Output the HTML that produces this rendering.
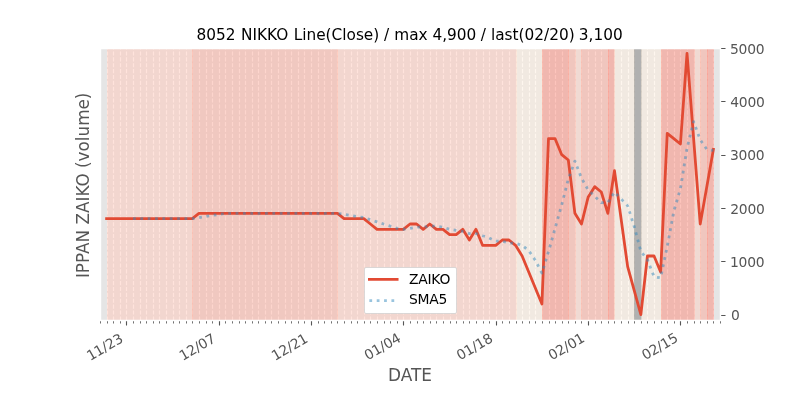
<!DOCTYPE html>
<html><head><meta charset="utf-8"><title>8052 NIKKO</title><style>
html,body{margin:0;padding:0;background:#fff;width:800px;height:400px;overflow:hidden}
text{font-family:"DejaVu Sans","Liberation Sans",sans-serif}
</style></head><body>
<svg width="800" height="400" viewBox="0 0 800 400" version="1.1" style="display:block;will-change:transform">
<defs><clipPath id="ax"><rect x="100" y="48" width="620" height="272"/></clipPath></defs>
<rect x="0" y="0" width="800" height="400" fill="#ffffff"/>
<rect x="100" y="48" width="620" height="272" fill="#e5e5e5"/>
<g clip-path="url(#ax)"><path d="M100.5 320.5V48.5M107.5 320.5V48.5M113.5 320.5V48.5M120.5 320.5V48.5M126.5 320.5V48.5M133.5 320.5V48.5M140.5 320.5V48.5M146.5 320.5V48.5M153.5 320.5V48.5M159.5 320.5V48.5M166.5 320.5V48.5M173.5 320.5V48.5M179.5 320.5V48.5M186.5 320.5V48.5M192.5 320.5V48.5M199.5 320.5V48.5M206.5 320.5V48.5M212.5 320.5V48.5M219.5 320.5V48.5M225.5 320.5V48.5M232.5 320.5V48.5M239.5 320.5V48.5M245.5 320.5V48.5M252.5 320.5V48.5M258.5 320.5V48.5M265.5 320.5V48.5M271.5 320.5V48.5M278.5 320.5V48.5M285.5 320.5V48.5M291.5 320.5V48.5M298.5 320.5V48.5M304.5 320.5V48.5M311.5 320.5V48.5M318.5 320.5V48.5M324.5 320.5V48.5M331.5 320.5V48.5M337.5 320.5V48.5M344.5 320.5V48.5M351.5 320.5V48.5M357.5 320.5V48.5M364.5 320.5V48.5M370.5 320.5V48.5M377.5 320.5V48.5M384.5 320.5V48.5M390.5 320.5V48.5M397.5 320.5V48.5M403.5 320.5V48.5M410.5 320.5V48.5M417.5 320.5V48.5M423.5 320.5V48.5M430.5 320.5V48.5M436.5 320.5V48.5M443.5 320.5V48.5M450.5 320.5V48.5M456.5 320.5V48.5M463.5 320.5V48.5M469.5 320.5V48.5M476.5 320.5V48.5M483.5 320.5V48.5M489.5 320.5V48.5M496.5 320.5V48.5M502.5 320.5V48.5M509.5 320.5V48.5M516.5 320.5V48.5M522.5 320.5V48.5M529.5 320.5V48.5M535.5 320.5V48.5M542.5 320.5V48.5M549.5 320.5V48.5M555.5 320.5V48.5M562.5 320.5V48.5M568.5 320.5V48.5M575.5 320.5V48.5M581.5 320.5V48.5M588.5 320.5V48.5M595.5 320.5V48.5M601.5 320.5V48.5M608.5 320.5V48.5M614.5 320.5V48.5M621.5 320.5V48.5M628.5 320.5V48.5M634.5 320.5V48.5M641.5 320.5V48.5M647.5 320.5V48.5M654.5 320.5V48.5M661.5 320.5V48.5M667.5 320.5V48.5M674.5 320.5V48.5M680.5 320.5V48.5M687.5 320.5V48.5M694.5 320.5V48.5M700.5 320.5V48.5M707.5 320.5V48.5M713.5 320.5V48.5M720.5 320.5V48.5" fill="none" stroke="#ffffff" stroke-width="1.111" stroke-dasharray="4.111 1.778"/>
<path d="M107.5 320.5H192.5V48.5H107.5Z" fill="#ffc7b9" fill-opacity="0.5" stroke="#ffc7b9" stroke-opacity="0.5" stroke-width="0.694"/>
<path d="M192.5 320.5H337.5V48.5H192.5Z" fill="#fbab9b" fill-opacity="0.5" stroke="#fbab9b" stroke-opacity="0.5" stroke-width="0.694"/>
<path d="M337.5 320.5H516.5V48.5H337.5Z" fill="#ffc7b9" fill-opacity="0.5" stroke="#ffc7b9" stroke-opacity="0.5" stroke-width="0.694"/>
<path d="M516.5 320.5H542.5V48.5H516.5Z" fill="#fdeddd" fill-opacity="0.5" stroke="#fdeddd" stroke-opacity="0.5" stroke-width="0.694"/>
<path d="M542.5 320.5H568.5V48.5H542.5Z" fill="#fb8979" fill-opacity="0.5" stroke="#fb8979" stroke-opacity="0.5" stroke-width="0.694"/>
<path d="M568.5 320.5H575.5V48.5H568.5Z" fill="#fba797" fill-opacity="0.5" stroke="#fba797" stroke-opacity="0.5" stroke-width="0.694"/>
<path d="M575.5 320.5H581.5V48.5H575.5Z" fill="#fbcfc1" fill-opacity="0.5" stroke="#fbcfc1" stroke-opacity="0.5" stroke-width="0.694"/>
<path d="M581.5 320.5H608.5V48.5H581.5Z" fill="#fba797" fill-opacity="0.5" stroke="#fba797" stroke-opacity="0.5" stroke-width="0.694"/>
<path d="M608.5 320.5H614.5V48.5H608.5Z" fill="#fb8979" fill-opacity="0.5" stroke="#fb8979" stroke-opacity="0.5" stroke-width="0.694"/>
<path d="M614.5 320.5H634.5V48.5H614.5Z" fill="#fdeddd" fill-opacity="0.5" stroke="#fdeddd" stroke-opacity="0.5" stroke-width="0.694"/>
<path d="M634.5 320.5H641.5V48.5H634.5Z" fill="#7b7b7b" fill-opacity="0.5" stroke="#7b7b7b" stroke-opacity="0.5" stroke-width="0.694"/>
<path d="M641.5 320.5H661.5V48.5H641.5Z" fill="#fdeddd" fill-opacity="0.5" stroke="#fdeddd" stroke-opacity="0.5" stroke-width="0.694"/>
<path d="M661.5 320.5H694.5V48.5H661.5Z" fill="#fb8979" fill-opacity="0.5" stroke="#fb8979" stroke-opacity="0.5" stroke-width="0.694"/>
<path d="M694.5 320.5H700.5V48.5H694.5Z" fill="#fbcfc1" fill-opacity="0.5" stroke="#fbcfc1" stroke-opacity="0.5" stroke-width="0.694"/>
<path d="M700.5 320.5H707.5V48.5H700.5Z" fill="#fba797" fill-opacity="0.5" stroke="#fba797" stroke-opacity="0.5" stroke-width="0.694"/>
<path d="M707.5 320.5H713.5V48.5H707.5Z" fill="#fb8979" fill-opacity="0.5" stroke="#fb8979" stroke-opacity="0.5" stroke-width="0.694"/>
<polyline points="106.596,218.667 113.191,218.667 119.787,218.667 126.383,218.667 132.979,218.667 139.574,218.667 146.17,218.667 152.766,218.667 159.362,218.667 165.957,218.667 172.553,218.667 179.149,218.667 185.745,218.667 192.34,218.667 198.936,213.333 205.532,213.333 212.128,213.333 218.723,213.333 225.319,213.333 231.915,213.333 238.511,213.333 245.106,213.333 251.702,213.333 258.298,213.333 264.894,213.333 271.489,213.333 278.085,213.333 284.681,213.333 291.277,213.333 297.872,213.333 304.468,213.333 311.064,213.333 317.66,213.333 324.255,213.333 330.851,213.333 337.447,213.333 344.043,218.667 350.638,218.667 357.234,218.667 363.83,218.667 370.426,224 377.021,229.333 383.617,229.333 390.213,229.333 396.809,229.333 403.404,229.333 410,224 416.596,224 423.191,229.333 429.787,224 436.383,229.333 442.979,229.333 449.574,234.667 456.17,234.667 462.766,229.333 469.362,240 475.957,229.333 482.553,245.333 489.149,245.333 495.745,245.333 502.34,240 508.936,240 515.532,245.333 522.128,256 528.723,272 535.319,288 541.915,304 548.511,138.667 555.106,138.667 561.702,154.667 568.298,160 574.894,213.333 581.489,224 588.085,197.333 594.681,186.667 601.277,192 607.872,213.333 614.468,170.667 627.66,266.667 634.255,290.667 640.851,314.667 647.447,256 654.043,256 660.638,272 667.234,133.333 673.83,138.667 680.426,144 687.021,53.333 693.617,138.667 700.213,224 706.809,186.667 713.404,149.333" fill="none" stroke="#e24a33" stroke-width="2.778" stroke-linecap="square" stroke-linejoin="round"/>
<polyline points="132.979,218.667 139.574,218.667 146.17,218.667 152.766,218.667 159.362,218.667 165.957,218.667 172.553,218.667 179.149,218.667 185.745,218.667 192.34,218.667 198.936,217.6 205.532,216.533 212.128,215.467 218.723,214.4 225.319,213.333 231.915,213.333 238.511,213.333 245.106,213.333 251.702,213.333 258.298,213.333 264.894,213.333 271.489,213.333 278.085,213.333 284.681,213.333 291.277,213.333 297.872,213.333 304.468,213.333 311.064,213.333 317.66,213.333 324.255,213.333 330.851,213.333 337.447,213.333 344.043,214.4 350.638,215.467 357.234,216.533 363.83,217.6 370.426,219.733 377.021,221.867 383.617,224 390.213,226.133 396.809,228.267 403.404,229.333 410,228.267 416.596,227.2 423.191,227.2 429.787,226.133 436.383,226.133 442.979,227.2 449.574,229.333 456.17,230.4 462.766,231.467 469.362,233.6 475.957,233.6 482.553,235.733 489.149,237.867 495.745,241.067 502.34,241.067 508.936,243.2 515.532,243.2 522.128,245.333 528.723,250.667 535.319,260.267 541.915,273.067 548.511,251.733 555.106,228.267 561.702,204.8 568.298,179.2 574.894,161.067 581.489,178.133 588.085,189.867 594.681,196.267 601.277,202.667 607.872,202.667 614.468,192 627.66,205.867 634.255,226.667 640.851,251.2 647.447,259.733 654.043,276.8 660.638,277.867 667.234,246.4 673.83,211.2 680.426,188.8 687.021,148.267 693.617,121.6 700.213,139.733 706.809,149.333 713.404,150.4" fill="none" stroke="#348abd" stroke-opacity="0.5" stroke-width="2.778" stroke-dasharray="2.778 4.583" stroke-linejoin="round"/>
</g>
<path d="M100.5 320.5V323.5M107.5 320.5V323.5M113.5 320.5V323.5M120.5 320.5V323.5M133.5 320.5V323.5M140.5 320.5V323.5M146.5 320.5V323.5M153.5 320.5V323.5M159.5 320.5V323.5M166.5 320.5V323.5M173.5 320.5V323.5M179.5 320.5V323.5M186.5 320.5V323.5M192.5 320.5V323.5M199.5 320.5V323.5M206.5 320.5V323.5M212.5 320.5V323.5M225.5 320.5V323.5M232.5 320.5V323.5M239.5 320.5V323.5M245.5 320.5V323.5M252.5 320.5V323.5M258.5 320.5V323.5M265.5 320.5V323.5M271.5 320.5V323.5M278.5 320.5V323.5M285.5 320.5V323.5M291.5 320.5V323.5M298.5 320.5V323.5M304.5 320.5V323.5M318.5 320.5V323.5M324.5 320.5V323.5M331.5 320.5V323.5M337.5 320.5V323.5M344.5 320.5V323.5M351.5 320.5V323.5M357.5 320.5V323.5M364.5 320.5V323.5M370.5 320.5V323.5M377.5 320.5V323.5M384.5 320.5V323.5M390.5 320.5V323.5M397.5 320.5V323.5M410.5 320.5V323.5M417.5 320.5V323.5M423.5 320.5V323.5M430.5 320.5V323.5M436.5 320.5V323.5M443.5 320.5V323.5M450.5 320.5V323.5M456.5 320.5V323.5M463.5 320.5V323.5M469.5 320.5V323.5M476.5 320.5V323.5M483.5 320.5V323.5M489.5 320.5V323.5M502.5 320.5V323.5M509.5 320.5V323.5M516.5 320.5V323.5M522.5 320.5V323.5M529.5 320.5V323.5M535.5 320.5V323.5M542.5 320.5V323.5M549.5 320.5V323.5M555.5 320.5V323.5M562.5 320.5V323.5M568.5 320.5V323.5M575.5 320.5V323.5M581.5 320.5V323.5M595.5 320.5V323.5M601.5 320.5V323.5M608.5 320.5V323.5M614.5 320.5V323.5M621.5 320.5V323.5M628.5 320.5V323.5M634.5 320.5V323.5M641.5 320.5V323.5M647.5 320.5V323.5M654.5 320.5V323.5M661.5 320.5V323.5M667.5 320.5V323.5M674.5 320.5V323.5M687.5 320.5V323.5M694.5 320.5V323.5M700.5 320.5V323.5M707.5 320.5V323.5M713.5 320.5V323.5M720.5 320.5V323.5" stroke="#555555" stroke-width="0.833" fill="none"/>
<path d="M126.5 320.5V325.5M219.5 320.5V325.5M311.5 320.5V325.5M403.5 320.5V325.5M496.5 320.5V325.5M588.5 320.5V325.5M680.5 320.5V325.5" stroke="#555555" stroke-width="1.111" fill="none"/>
<path d="M720.5 315.5H725.5M720.5 261.5H725.5M720.5 208.5H725.5M720.5 155.5H725.5M720.5 101.5H725.5M720.5 48.5H725.5" stroke="#555555" stroke-width="1.111" fill="none"/>
<path d="M100.5 320.5V48.5M720.5 320.5V48.5M100.5 320.5H720.5M100.5 48.5H720.5" fill="none" stroke="#ffffff" stroke-width="1.389" stroke-linecap="square"/>
<path d="M366 313.5H455Q456.5 313.5 456.5 312V269Q456.5 267.5 455 267.5H366Q364.5 267.5 364.5 269V312Q364.5 313.5 366 313.5Z" fill="#ffffff" stroke="#cccccc" stroke-width="0.694" stroke-linejoin="miter"/>
<path d="M369.361 279.364H397.139" stroke="#e24a33" stroke-width="2.778" stroke-linecap="square" fill="none"/>
<path d="M369.361 300.65H397.139" stroke="#348abd" stroke-opacity="0.5" stroke-width="2.778" stroke-dasharray="2.778 4.583" fill="none"/>
<text transform="translate(90.131 360.975) rotate(-30)" font-size="13.889" letter-spacing="-0.2" fill="#555555">11/23</text>
<text transform="translate(182.772 360.925) rotate(-30)" font-size="13.889" letter-spacing="-0.2" fill="#555555">12/07</text>
<text transform="translate(275.062 360.875) rotate(-30)" font-size="13.889" letter-spacing="-0.2" fill="#555555">12/21</text>
<text transform="translate(367.853 360.375) rotate(-30)" font-size="13.889" letter-spacing="-0.2" fill="#555555">01/04</text>
<text transform="translate(459.993 360.575) rotate(-30)" font-size="13.889" letter-spacing="-0.2" fill="#555555">01/18</text>
<text transform="translate(551.834 360.525) rotate(-30)" font-size="13.889" letter-spacing="-0.2" fill="#555555">02/01</text>
<text transform="translate(645.174 360.275) rotate(-30)" font-size="13.889" letter-spacing="-0.2" fill="#555555">02/15</text>
<text transform="translate(409.95 380.846) scale(1.015 1.08)" font-size="16.667" text-anchor="middle" fill="#555555">DATE</text>
<text transform="translate(730.972 319.943)" font-size="13.889" fill="#555555">0</text>
<text transform="translate(729.972 266.61)" font-size="13.889" letter-spacing="-0.25" fill="#555555">1000</text>
<text transform="translate(730.222 214.277)" font-size="13.889" letter-spacing="-0.25" fill="#555555">2000</text>
<text transform="translate(729.972 159.943)" font-size="13.889" letter-spacing="-0.25" fill="#555555">3000</text>
<text transform="translate(730.222 106.61)" font-size="13.889" letter-spacing="-0.25" fill="#555555">4000</text>
<text transform="translate(729.972 54.277)" font-size="13.889" letter-spacing="-0.25" fill="#555555">5000</text>
<text transform="translate(89.128 185.35) rotate(-90) scale(1.009 1.075)" font-size="16.667" text-anchor="middle" fill="#555555">IPPAN ZAIKO (volume)</text>
<text transform="translate(409.65 39.667) scale(1.003 1)" font-size="15.278" text-anchor="middle" fill="#000000">8052 <tspan dx="0.5">NIKKO</tspan> <tspan dx="0.5">Line(Close)</tspan> <tspan dx="-0.25">/</tspan> <tspan dx="0.25">max</tspan> 4,900 <tspan dx="-0.5">/</tspan> <tspan dx="0.25">last(02/20)</tspan> <tspan dx="-0.75">3,100</tspan></text>
<text transform="translate(409 284.225)" font-size="13.889" letter-spacing="-0.25" fill="#000000">ZAIKO</text>
<text transform="translate(409 303.612)" font-size="13.889" letter-spacing="-0.25" fill="#000000">SMA5</text>
</svg>
</body></html>
